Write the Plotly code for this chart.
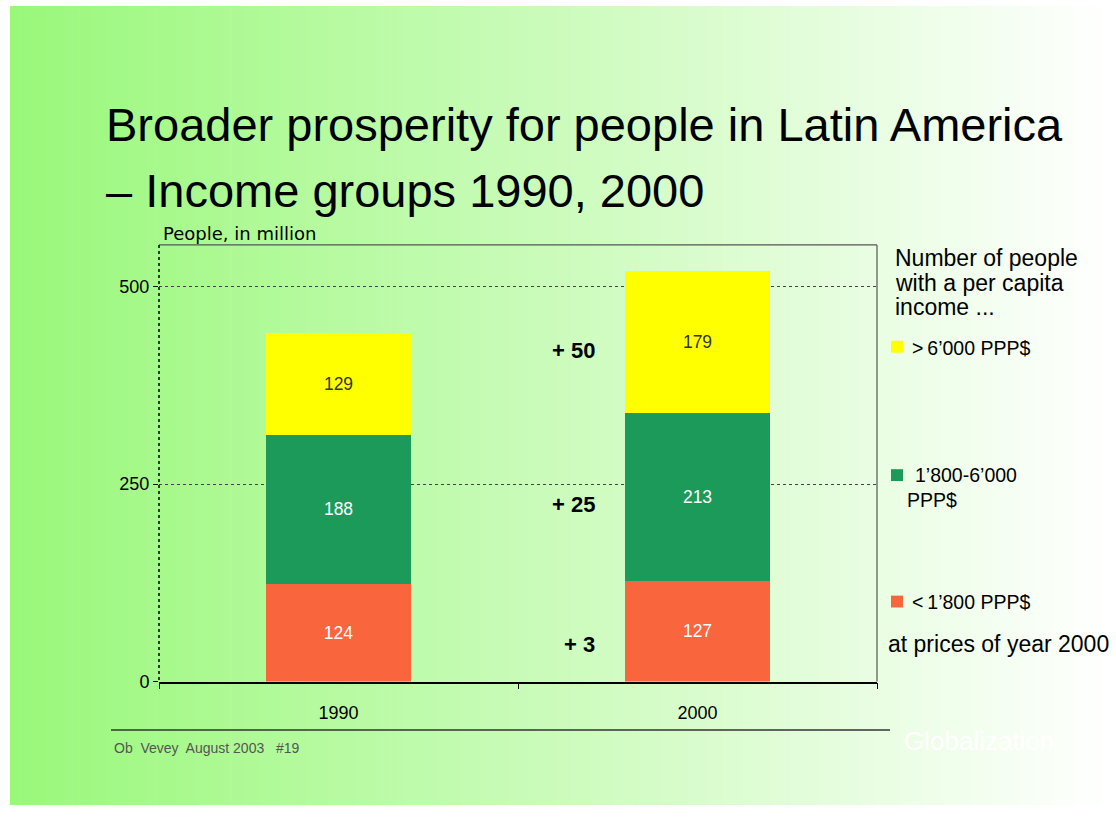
import plotly.graph_objects as go

# ---- data ----
years = ["1990", "2000"]
low_income = [124, 127]        # < 1'800 PPP$
mid_income = [188, 213]        # 1'800-6'000 PPP$
high_income = [129, 179]       # > 6'000 PPP$
series_names = ["< 1’800 PPP$", "1’800-6’000 PPP$", "> 6’000 PPP$"]
y_ticks = [0, 250, 500]

W, H = 1116, 818
def px(x): return x / W
def py(y): return 1 - y / H

C_LOW = "#f9663d"
C_MID = "#1c9a5a"
C_HIGH = "#ffff00"

fig = go.Figure()
for vals, name, col, tcol in [
    (low_income, series_names[0], C_LOW, "white"),
    (mid_income, series_names[1], C_MID, "white"),
    (high_income, series_names[2], C_HIGH, "#333333"),
]:
    fig.add_trace(go.Bar(
        x=years, y=vals, name=name, marker=dict(color=col, line=dict(width=0)),
        text=[str(v) for v in vals], textposition="inside", insidetextanchor="middle",
        textfont=dict(color=tcol, size=17.5, family="Liberation Sans"),
        showlegend=False,
    ))

shapes = []
# gradient slide background
x0, x1, y0, y1 = 10, W, 6, 815
left = (153, 248, 122)
right = (255, 255, 255)
n = 160
for i in range(n):
    t = i / (n - 1)
    c = tuple(round(left[k] + (right[k] - left[k]) * t) for k in range(3))
    xa = x0 + (x1 - x0) * i / n
    xb = x0 + (x1 - x0) * (i + 1) / n + 0.6
    shapes.append(dict(type="rect", xref="paper", yref="paper", x0=px(xa), x1=px(xb),
                       y0=py(y1), y1=py(y0), fillcolor="rgb(%d,%d,%d)" % c,
                       line=dict(width=0), layer="below"))
# plot frame
shapes.append(dict(type="line", xref="paper", yref="paper", x0=px(159), x1=px(877),
                   y0=py(248), y1=py(248), line=dict(color="#555555", width=1.2)))
shapes.append(dict(type="line", xref="paper", yref="paper", x0=px(877), x1=px(877),
                   y0=py(248), y1=py(690), line=dict(color="#555555", width=1.2)))
shapes.append(dict(type="line", xref="paper", yref="paper", x0=px(159), x1=px(159),
                   y0=py(248), y1=py(690), line=dict(color="black", width=1.5, dash="dot")))
# footer rule
shapes.append(dict(type="line", xref="paper", yref="paper", x0=px(111), x1=px(890),
                   y0=py(739), y1=py(739), line=dict(color="#333333", width=1.5)))
# legend squares
for yy, col in [(351, C_HIGH), (481, C_MID), (609, C_LOW)]:
    shapes.append(dict(type="rect", xref="paper", yref="paper", x0=px(891), x1=px(903),
                       y0=py(yy + 6), y1=py(yy - 6), fillcolor=col, line=dict(width=0)))

ann = []
def txt(x, y, s, size, color="black", xanchor="left", bold=False, family="Liberation Sans"):
    ann.append(dict(x=px(x), y=py(y), xref="paper", yref="paper", text=("<b>%s</b>" % s) if bold else s,
                    showarrow=False, xanchor=xanchor, yanchor="middle",
                    font=dict(size=size, color=color, family=family)))

txt(104, 126, "Broader prosperity for people in Latin America", 47)
txt(104, 193, "– Income groups 1990, 2000", 47)
txt(161, 236, "People, in million", 18, family="DejaVu Sans")
txt(893, 261, "Number of people", 23)
txt(893, 286, "with a per capita", 23)
txt(893, 311, "income ...", 23)
txt(910, 352, series_names[2].replace("> ", ">&#8201;"), 19.5)
txt(913, 481, "1’800-6’000", 19.5)
txt(905, 506, "PPP$", 19.5)
txt(910, 609, series_names[0].replace("< ", "<&#8201;"), 19.5)
txt(886, 652, "at prices of year 2000", 23)
# change between 1990 and 2000 per income group
diffs = [high_income[1] - high_income[0], mid_income[1] - mid_income[0], low_income[1] - low_income[0]]
for d, yy in zip(diffs, [355, 511, 652]):
    txt(597, yy, "+ %d" % d, 22, xanchor="right", bold=True)
txt(112, 757, "Ob  Vevey  August 2003   #19", 14, color="#555555")
txt(902, 750, "Globalization", 26, color="white")

fig.update_layout(
    width=W, height=H, margin=dict(l=0, r=0, t=0, b=0),
    paper_bgcolor="white", plot_bgcolor="rgba(0,0,0,0)",
    barmode="stack", bargap=0.596,
    shapes=shapes, annotations=ann,
    xaxis=dict(domain=[px(159), px(877)], showline=True, linecolor="black", linewidth=1.5,
               ticks="outside", tickson="boundaries", ticklen=6, tickcolor="black",
               ticklabelstandoff=14,
               tickfont=dict(size=18, family="Liberation Sans", color="black"),
               showgrid=False, fixedrange=True),
    yaxis=dict(domain=[py(690), py(248)], range=[0, 552.5], tickvals=y_ticks,
               showline=False, ticks="outside", ticklen=5, tickcolor="black",
               showgrid=True, gridcolor="#444444", griddash="dot", gridwidth=1,
               zeroline=False,
               tickfont=dict(size=18, family="Liberation Sans", color="black")),
    font=dict(family="Liberation Sans"),
)

fig.write_html("out.html", config={"displayModeBar": False},
               post_script="document.body.style.margin='0';")
